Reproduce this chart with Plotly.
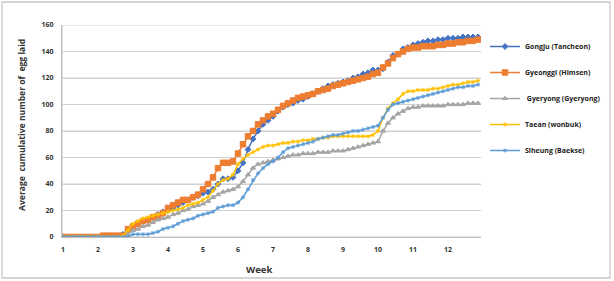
import plotly.graph_objects as go

week_labels = [str(w) for w in range(1, 13)]
days = list(range(84))
y_ticks = [0, 20, 40, 60, 80, 100, 120, 140, 160]

gongju = [0,0,0,0,0,0,0,
          0,0,0,0,0.5,2,5,
          8,10,12,13,15,17,19,
          20,22,24,26,28,30,31,
          33,34,36,40,44,44,45,
          50,56,66,74,80,85,88,
          91,95,98,100,101,103,104,
          106,108,110,112,114,115,116,
          117,118,120,121,123,124,126,
          126,127,132,137,138,142,143,
          145,146,147,148,148,149,149,
          150,150,150,151,151,151,151]
gyeonggi = [0,0,0,0,0,0,0,
            0,1,1,1,1,1,6,
            8,10,12,13,15,16,18,
            22,24,26,28,28,30,32,
            36,40,45,52,56,56,57,
            63,70,76,80,85,88,91,
            93,96,99,101,103,105,106,
            107,108,110,111,112,114,115,
            116,117,118,119,120,121,123,
            124,128,131,135,138,140,142,
            143,143,144,144,144,145,145,
            146,146,147,147,148,148,149]
gyeryong = [0,0,0,0,0,0,0,
            0,0,0,0,0,0,2,
            5,6,8,9,11,13,14,
            15,17,18,20,21,23,24,
            25,27,30,32,34,35,36,
            38,42,47,52,55,56,57,
            58,59,60,61,62,62,63,
            63,63,64,64,64,65,65,
            65,66,67,68,69,70,71,
            72,80,86,90,93,95,97,
            98,98,99,99,99,99,99,
            100,100,100,100,101,101,101]
taean = [0,0,0,0,0,0,0,
         0,0,0,0,0,1,5,
         10,12,14,15,16,17,18,
         19,20,21,22,24,25,26,
         28,30,35,40,43,44,47,
         55,59,62,64,66,68,69,
         69,70,71,71,72,72,73,
         73,74,74,75,75,76,76,
         76,76,76,76,76,76,77,
         80,90,97,101,104,108,110,
         110,111,111,111,112,112,113,
         114,115,115,116,117,117,118]
siheung = [0,0,0,0,0,0,0,
           0,0,0,0,0,0,0,
           2,2,2,2,3,4,6,
           7,8,10,12,13,14,16,
           17,18,19,22,23,24,24,
           26,30,36,43,48,52,55,
           57,60,64,67,68,69,70,
           71,72,74,75,76,77,77,
           78,79,80,80,81,82,83,
           84,90,96,100,101,102,103,
           104,105,106,107,108,109,110,
           111,112,113,113,114,114,115]

series = [
    ("Gongju (Tancheon)", gongju, "#4472C4", "diamond", 4.5),
    ("Gyeonggi (Himsen)", gyeonggi, "#ED7D31", "square", 5.5),
    (" Gyeryong (Gyeryong)", gyeryong, "#A5A5A5", "triangle-up", 4.5),
    ("Taean (wonbuk)", taean, "#FFC000", "asterisk-open", 3.5),
    ("Siheung (Baekse)", siheung, "#5B9BD5", "asterisk-open", 3.5),
]

fig = go.Figure()
for i, (name, vals, col, sym, sz) in enumerate(series):
    fig.add_trace(go.Scatter(
        x=days, y=vals, name=name, mode="lines+markers",
        line=dict(color=col, width=1.5),
        marker=dict(symbol=sym, size=sz, color=col, line=dict(color=col, width=1)),
        legendgroup=f"g{i}",
    ))

L, R, T, B = 62, 133, 25, 44
W, H = 614, 281
pw, ph = W - L - R, H - T - B
def px2paper(xp, yp):
    return (xp - L) / pw, (H - B - yp) / ph

ax, ay = px2paper(259, 269)
bx, by = px2paper(22, 125)
x0, y0 = px2paper(2, 278)
x1, y1 = px2paper(610, 2)

fig.update_layout(
    template="none",
    width=W, height=H,
    margin=dict(l=L, r=R, t=T, b=B),
    paper_bgcolor="white", plot_bgcolor="white",
    font=dict(family="Open Sans", size=7, color="#333333"),
    showlegend=True,
    legend=dict(xref="container", yref="container", x=485 / W, y=1 - 32 / H,
                xanchor="left", yanchor="top",
                font=dict(family="Open Sans", size=7, color="#222222", weight="bold"),
                tracegroupgap=7, itemwidth=30, bgcolor="rgba(0,0,0,0)"),
    xaxis=dict(range=[-0.2, 83.6], tickmode="array",
               tickvals=[7 * i for i in range(12)], ticktext=week_labels,
               showgrid=False, zeroline=False, showline=True, linecolor="#BFBFBF",
               linewidth=1, ticks="", tickfont=dict(size=7, weight="bold"),
               ticklabelstandoff=6, automargin=False),
    yaxis=dict(range=[0, 160], tickmode="array", tickvals=y_ticks,
               showgrid=True, gridcolor="#D0D0D0", gridwidth=1,
               zeroline=False, showline=True, linecolor="#BFBFBF", linewidth=1,
               ticks="", tickfont=dict(size=7, weight="bold"),
               ticklabelstandoff=6, automargin=False),
    annotations=[
        dict(text="Week", x=ax, y=ay, xref="paper", yref="paper", showarrow=False,
             xanchor="center", yanchor="middle",
             font=dict(size=9.5, weight="bold", color="#333333")),
        dict(text="Average  cumulative number of  egg laid", textangle=-90,
             x=bx, y=by, xref="paper", yref="paper", showarrow=False,
             xanchor="center", yanchor="middle",
             font=dict(size=8.6, weight="bold", color="#333333")),
    ],
)

# horizontal gridlines at each y tick value (drawn through the y scale)
for v in y_ticks:
    fig.add_shape(type="line", xref="paper", yref="y", x0=0, x1=1, y0=v, y1=v,
                  line=dict(color="#CFCFCF", width=1), layer="below")
# left axis line
fig.add_shape(type="line", xref="paper", yref="paper", x0=0, x1=0, y0=0, y1=1,
              line=dict(color="#BFBFBF", width=1), layer="below")

fig.add_shape(type="rect", xref="paper", yref="paper", x0=x0, y0=y0, x1=x1, y1=y1,
              line=dict(color="#C8C8C8", width=1.3))

fig.write_html("out.html")
